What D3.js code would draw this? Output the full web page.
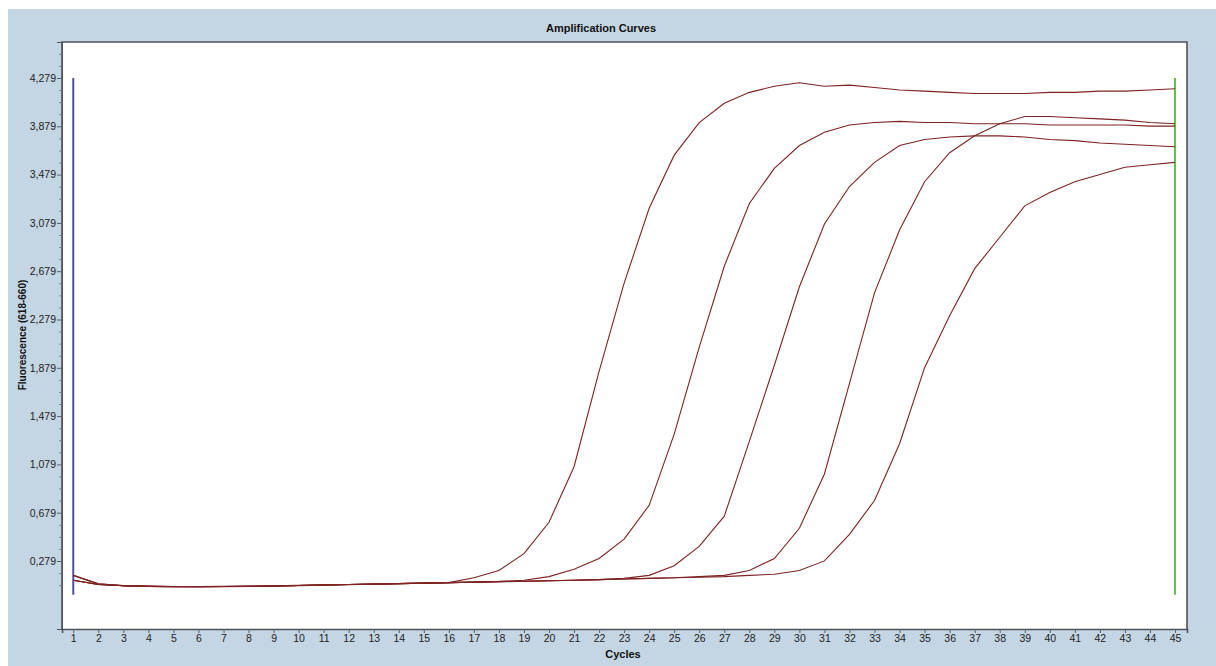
<!DOCTYPE html>
<html><head><meta charset="utf-8">
<script src="https://cdn.jsdelivr.net/npm/d3@7"></script>
<style>
html,body{margin:0;padding:0;background:#fff;}
svg{display:block;font-family:"Liberation Sans",Arial,sans-serif;}
</style></head>
<body>
<svg id="chart" width="1216" height="666"></svg>
<script>
const cycles = [1,2,3,4,5,6,7,8,9,10,11,12,13,14,15,16,17,18,19,20,21,22,23,24,25,26,27,28,29,30,31,32,33,34,35,36,37,38,39,40,41,42,43,44,45];
const sampleA = [0.16,0.09,0.075,0.07,0.068,0.067,0.068,0.07,0.072,0.076,0.08,0.084,0.088,0.092,0.096,0.10,
  0.14,0.20,0.34,0.60,1.06,1.85,2.58,3.20,3.64,3.91,4.07,4.16,4.21,4.24,4.21,4.22,4.20,4.18,4.17,4.16,4.15,4.15,4.15,4.16,4.16,4.17,4.17,4.18,4.19];
const sampleB = [0.12,0.085,0.075,0.07,0.068,0.068,0.069,0.07,0.073,0.077,0.081,0.085,0.089,0.093,0.097,0.10,
  0.105,0.11,0.12,0.15,0.21,0.30,0.46,0.74,1.33,2.05,2.72,3.24,3.53,3.72,3.83,3.89,3.91,3.92,3.91,3.91,3.90,3.90,3.90,3.89,3.89,3.89,3.89,3.88,3.88];
const sampleC = [0.16,0.09,0.074,0.069,0.066,0.066,0.067,0.069,0.071,0.075,0.079,0.083,0.087,0.091,0.095,0.099,
  0.103,0.107,0.111,0.115,0.12,0.125,0.135,0.16,0.24,0.40,0.65,1.27,1.90,2.55,3.07,3.38,3.58,3.72,3.77,3.79,3.80,3.80,3.79,3.77,3.76,3.74,3.73,3.72,3.71];
const sampleD = [0.12,0.085,0.074,0.069,0.067,0.067,0.068,0.07,0.072,0.076,0.08,0.084,0.088,0.092,0.096,0.10,
  0.104,0.108,0.112,0.116,0.12,0.125,0.13,0.135,0.14,0.15,0.16,0.20,0.30,0.55,1.00,1.75,2.50,3.02,3.42,3.66,3.80,3.90,3.96,3.96,3.95,3.94,3.93,3.91,3.90];
const sampleE = [0.12,0.085,0.074,0.069,0.067,0.067,0.068,0.07,0.072,0.076,0.08,0.084,0.088,0.092,0.096,0.10,
  0.104,0.108,0.112,0.116,0.12,0.125,0.13,0.135,0.14,0.145,0.15,0.16,0.17,0.20,0.28,0.50,0.78,1.25,1.88,2.31,2.70,2.96,3.22,3.33,3.42,3.48,3.54,3.56,3.58];
const seriesList = [sampleA, sampleB, sampleC, sampleD, sampleE];
const yTickValues = [0.279,0.679,1.079,1.479,1.879,2.279,2.679,3.079,3.479,3.879,4.279];
const yMinorValues = [0.079,0.179,0.379,0.479,0.579,0.779,0.879,0.979,1.179,1.279,1.379,1.579,1.679,1.779,1.979,2.079,2.179,2.379,2.479,2.579,2.779,2.879,2.979,3.179,3.279,3.379,3.579,3.679,3.779,3.979,4.079,4.179,4.379,4.479];
const startMarker = {cycle:1, from:0.0, to:4.279};
const endMarker = {cycle:45, from:0.0, to:4.279};
const titleText = "Amplification Curves";
const xLabel = "Cycles";
const yLabel = "Fluorescence (618-660)";

const svg = d3.select("#chart");
const W = 1216, H = 666;
const plot = {left:62, top:42, right:1187, bottom:629};

svg.append("rect").attr("x",8).attr("y",9).attr("width",W-8).attr("height",H-9).attr("fill","#c4d5e4");
svg.append("rect").attr("x",plot.left).attr("y",plot.top).attr("width",plot.right-plot.left).attr("height",plot.bottom-plot.top).attr("fill","#ffffff");

const x = d3.scaleLinear().domain([0.55,45.48]).range([plot.left,plot.right]);
const y = d3.scaleLinear().domain([-0.284,4.577]).range([plot.bottom,plot.top]);

// markers
svg.append("line").attr("x1",x(startMarker.cycle)).attr("x2",x(startMarker.cycle))
  .attr("y1",y(startMarker.from)).attr("y2",y(startMarker.to)).attr("stroke","#4f4fa6").attr("stroke-width",2);
svg.append("line").attr("x1",x(endMarker.cycle)).attr("x2",x(endMarker.cycle))
  .attr("y1",y(endMarker.from)).attr("y2",y(endMarker.to)).attr("stroke","#62c046").attr("stroke-width",2);

// curves
const line = d3.line().x((d,i)=>x(cycles[i])).y(d=>y(d));
svg.append("g").selectAll("path").data(seriesList).join("path")
  .attr("d",d=>line(d)).attr("fill","none").attr("stroke","#7e2222").attr("stroke-width",1.1);

// frame
svg.append("path").attr("d",`M${plot.left},${plot.bottom}V${plot.top}H${plot.right}V${plot.bottom}`)
  .attr("fill","none").attr("stroke","#505058").attr("stroke-width",1.6);

// y axis
const fmt = v => d3.format(".3f")(v).replace(".",",");
const yAxis = d3.axisLeft(y).tickValues(yTickValues).tickFormat(fmt).tickSize(5).tickPadding(1);
const gy = svg.append("g").attr("transform",`translate(${plot.left},0)`).call(yAxis);
gy.select(".domain").attr("stroke","#505058");
gy.selectAll(".tick line").attr("stroke","#606068");
gy.selectAll("text").attr("font-size",10.5).attr("fill","#222");
const yMinor = d3.axisLeft(y).tickValues(yMinorValues).tickFormat("").tickSize(3);
const gym = svg.append("g").attr("transform",`translate(${plot.left},0)`).call(yMinor);
gym.select(".domain").remove();
gym.selectAll(".tick line").attr("stroke","#808088");

// x axis
const xAxis = d3.axisBottom(x).tickValues(cycles).tickFormat(d3.format("d")).tickSize(4).tickPadding(2);
const gx = svg.append("g").attr("transform",`translate(0,${plot.bottom})`).call(xAxis);
gx.select(".domain").attr("stroke","#505058").attr("stroke-width",1.6);
gx.selectAll(".tick line").attr("stroke","#606068");
gx.selectAll("text").attr("font-size",10.5).attr("fill","#222");

// titles
svg.append("text").attr("x",601).attr("y",32).attr("text-anchor","middle")
  .attr("font-size",11).attr("font-weight","bold").attr("fill","#111").text(titleText);
svg.append("text").attr("x",623).attr("y",658).attr("text-anchor","middle")
  .attr("font-size",11).attr("font-weight","bold").attr("fill","#111").text(xLabel);
svg.append("text").attr("transform","translate(26,335) rotate(-90)").attr("text-anchor","middle")
  .attr("font-size",10).attr("font-weight","bold").attr("fill","#111").text(yLabel);
</script>
</body></html>
